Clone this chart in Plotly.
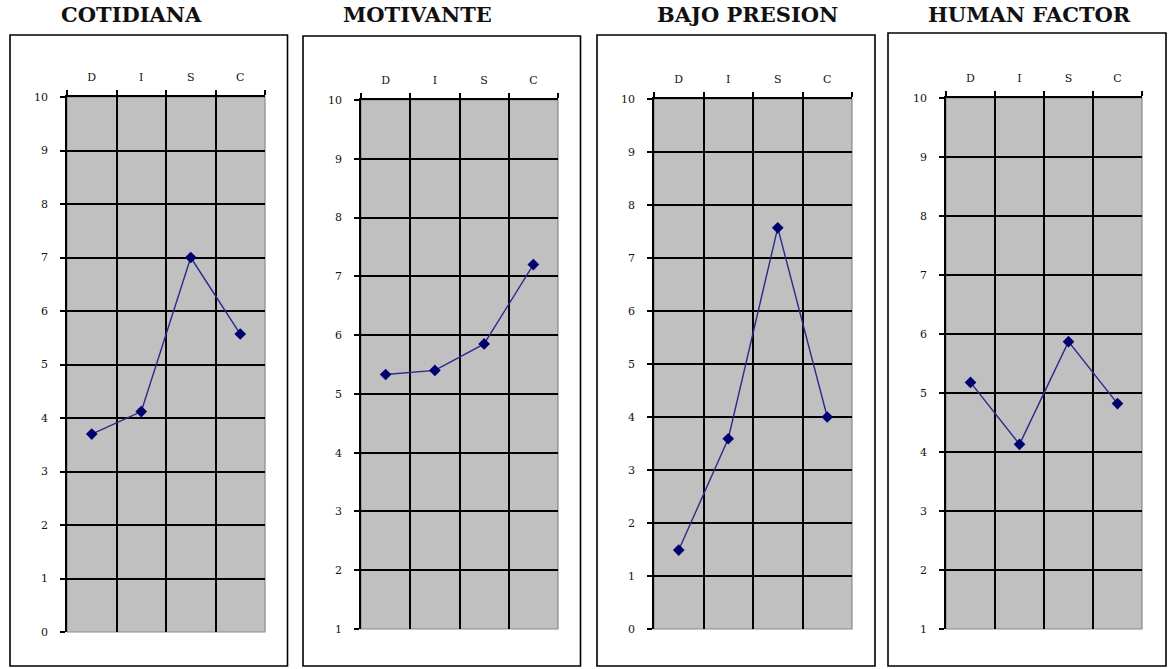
import plotly.graph_objects as go

# ---------------- data ----------------
categories = ["D", "I", "S", "C"]
titles = ["COTIDIANA", "MOTIVANTE", "BAJO PRESION", "HUMAN FACTOR"]
cotidiana = [3.70, 4.12, 7.00, 5.57]
motivante = [5.33, 5.40, 5.85, 7.20]
bajo_presion = [1.49, 3.59, 7.57, 4.00]
human_factor = [5.18, 4.13, 5.87, 4.82]
y_ticks_0 = [0, 1, 2, 3, 4, 5, 6, 7, 8, 9, 10]
y_ticks_1 = [1, 2, 3, 4, 5, 6, 7, 8, 9, 10]

series = [cotidiana, motivante, bajo_presion, human_factor]
y_ticks = [y_ticks_0, y_ticks_1, y_ticks_0, y_ticks_1]

# ---------------- layout geometry (pixels) ----------------
W, H = 1169, 669

plot_px = [  # left, right, top, bottom of plot area
    (67, 265, 97, 632),
    (361, 558, 100, 629),
    (654, 852, 99, 629),
    (946, 1142, 98, 629),
]
box_px = [  # left, right, top, bottom of framing box
    (10, 287.5, 35, 666),
    (303, 580.5, 36, 666),
    (597, 875, 35, 666),
    (888, 1166, 33, 666),
]
title_x_px = [131, 417, 747, 1029]
title_y_px = 15

def fx(px):
    return px / W

def fy(py):
    return 1 - py / H

fig = go.Figure()
shapes = []
annotations = []

for i in range(4):
    n = "" if i == 0 else str(i + 1)
    xa, ya = "x" + n, "y" + n
    l, r, t, b = plot_px[i]
    yt = y_ticks[i]
    fig.add_trace(go.Scatter(
        x=categories, y=series[i], xaxis=xa, yaxis=ya,
        mode="lines+markers",
        line=dict(color="#2a2a8c", width=1.4),
        marker=dict(symbol="diamond", size=9, color="#000070"),
        showlegend=False, hoverinfo="x+y",
    ))
    fig.layout["xaxis" + n] = dict(
        domain=[fx(l), fx(r)], anchor=ya, side="top",
        type="category", categoryorder="array", categoryarray=categories,
        range=[-0.5, 3.5], tickson="boundaries",
        ticks="outside", ticklen=5, tickwidth=1.8, tickcolor="black",
        showline=True, linecolor="black", linewidth=1.8,
        showgrid=True, gridcolor="black", gridwidth=1.8,
        tickfont=dict(family="DejaVu Serif", size=11, color="#111"),
        ticklabelstandoff=10, fixedrange=True, zeroline=False, automargin=False,
    )
    fig.layout["yaxis" + n] = dict(
        domain=[fy(b), fy(t)], anchor=xa,
        range=[yt[0], yt[-1]], tickmode="array", tickvals=yt,
        ticktext=[str(v) for v in yt],
        ticks="outside", ticklen=5, tickwidth=1.8, tickcolor="black",
        showline=True, linecolor="black", linewidth=1.8,
        showgrid=True, gridcolor="black", gridwidth=1.8,
        tickfont=dict(family="DejaVu Serif", size=11, color="#111"),
        ticklabelstandoff=10, fixedrange=True, zeroline=False, automargin=False,
    )
    # grey plot-area border (right and bottom edges visible)
    shapes.append(dict(type="rect", xref=xa + " domain", yref=ya + " domain",
                       x0=0, x1=1, y0=0, y1=1, layer="below",
                       line=dict(color="#8a8a8a", width=1.2)))
    # framing box
    bl, br, bt, bb = box_px[i]
    shapes.append(dict(type="rect", xref="paper", yref="paper",
                       x0=fx(bl), x1=fx(br), y0=fy(bb), y1=fy(bt),
                       line=dict(color="black", width=1.6)))
    annotations.append(dict(text="<b>" + titles[i] + "</b>", xref="paper", yref="paper",
                            x=fx(title_x_px[i]), y=fy(title_y_px), xanchor="center",
                            yanchor="middle", showarrow=False,
                            font=dict(family="DejaVu Serif", size=21, color="#111")))

fig.update_layout(
    width=W, height=H, margin=dict(l=0, r=0, t=0, b=0, autoexpand=False),
    paper_bgcolor="white", plot_bgcolor="#c0c0c0",
    shapes=shapes, annotations=annotations,
)

page_css = (
    "document.documentElement.style.margin='0';"
    "document.documentElement.style.overflow='hidden';"
    "document.body.style.margin='0';"
    "document.body.style.overflow='hidden';"
)
fig.write_html("out.html", post_script=page_css, config={"displayModeBar": False})
